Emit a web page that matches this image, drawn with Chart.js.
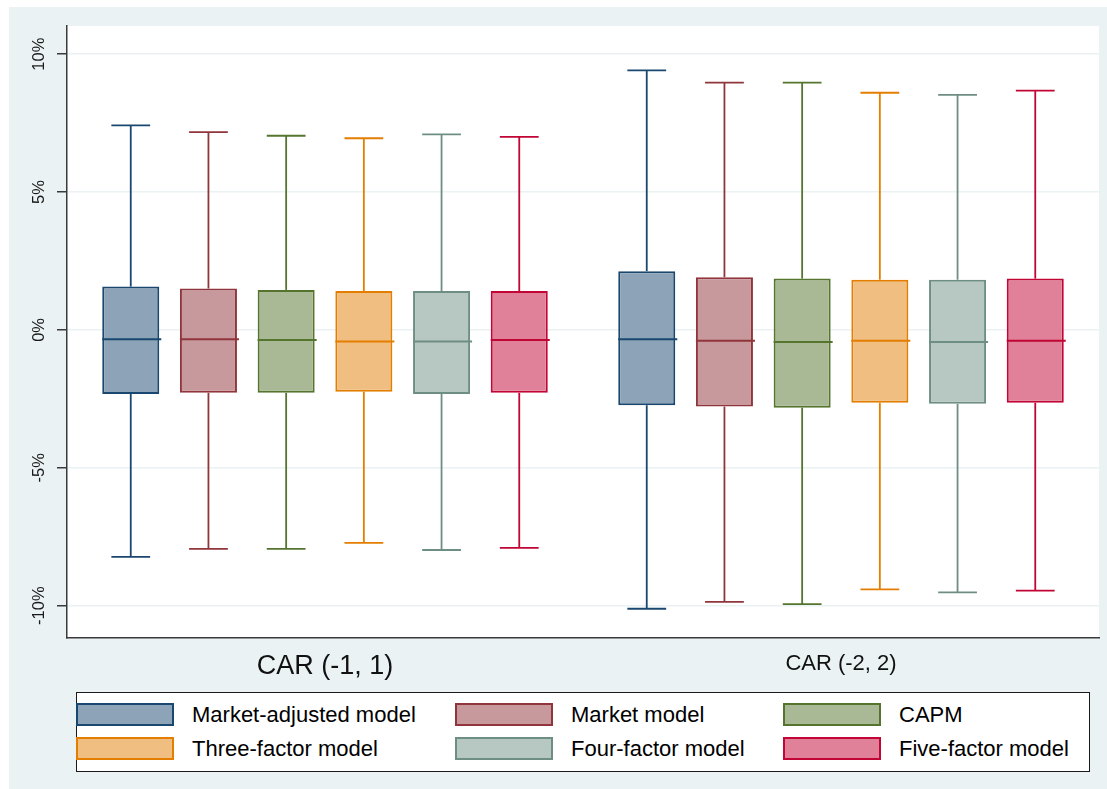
<!DOCTYPE html>
<html>
<head>
<meta charset="utf-8">
<script src="https://cdn.jsdelivr.net/npm/chart.js@4.4.1/dist/chart.umd.min.js"></script>
<style>
  html, body { margin: 0; padding: 0; background: #ffffff; width: 1107px; height: 789px; overflow: hidden; }
  #bg { position: absolute; left: 9px; top: 7px; width: 1098px; height: 782px; background: #EAF2F3; }
  #chart { position: absolute; left: 0; top: 0; }
  #legend { position: absolute; left: 67px; top: 685px; width: 1014px; height: 80px; background: #ffffff;
            border: 1px solid #1a1a1a; box-sizing: border-box; font-family: 'Liberation Sans', Arial, sans-serif; }
  .item { position: absolute; height: 23px; display: flex; align-items: center; }
  .sw { width: 98px; height: 23px; box-sizing: border-box; border: 2px solid; }
  .lt { margin-left: 18px; font-size: 22px; color: #000; white-space: nowrap; }
</style>
</head>
<body>
<div id="bg">
  <canvas id="chart" width="1098" height="782"></canvas>
  <div id="legend"></div>
</div>
<script>
// ---- data (values in %) ----
const categories = ['CAR (-1, 1)', 'CAR (-2, 2)'];
const models = ['Market-adjusted model', 'Market model', 'CAPM',
                'Three-factor model', 'Four-factor model', 'Five-factor model'];
// each row: [CAR (-1, 1), CAR (-2, 2)]
const whiskerHigh   = [[7.42, 9.41], [7.17, 8.97], [7.04, 8.97], [6.95, 8.60], [7.09, 8.52], [7.00, 8.68]];
const upperQuartile = [[1.57, 2.13], [1.50, 1.91], [1.45, 1.86], [1.41, 1.82], [1.41, 1.82], [1.41, 1.86]];
const medianValue   = [[-0.34, -0.34], [-0.34, -0.39], [-0.37, -0.44], [-0.42, -0.39], [-0.42, -0.44], [-0.37, -0.39]];
const lowerQuartile = [[-2.32, -2.73], [-2.28, -2.78], [-2.28, -2.82], [-2.24, -2.64], [-2.32, -2.68], [-2.28, -2.64]];
const whiskerLow    = [[-8.23, -10.11], [-7.94, -9.86], [-7.94, -9.94], [-7.72, -9.41], [-7.98, -9.52], [-7.90, -9.45]];
const yTicks = [-10, -5, 0, 5, 10];

// ---- styles ----
const lineColors = ['#1A476F', '#90353B', '#55752F', '#E37E00', '#6E8E84', '#C10534'];
const fillColors = ['#8DA3B8', '#C8999C', '#AAB995', '#F0BE80', '#B7C7C1', '#E08199'];
const FONT = "'Liberation Sans', Arial, sans-serif";
const AXIS = '#3a3a3a';

const boxParts = {
  id: 'boxParts',
  beforeDraw(chart) {
    const { ctx, chartArea: a } = chart;
    ctx.save();
    ctx.fillStyle = '#ffffff';
    ctx.fillRect(a.left, a.top, a.right - a.left, a.bottom - a.top);
    ctx.restore();
  },
  afterDatasetsDraw(chart) {
    const ctx = chart.ctx, ys = chart.scales.y;
    const seg = (x1, y1, x2, y2) => { ctx.beginPath(); ctx.moveTo(x1, y1); ctx.lineTo(x2, y2); ctx.stroke(); };
    ctx.save();
    chart.data.datasets.forEach((ds, i) => {
      const meta = chart.getDatasetMeta(i);
      meta.data.forEach((bar, j) => {
        const x = bar.x, w = bar.width, cap = w * 0.68;
        const yHi = ys.getPixelForValue(whiskerHigh[i][j]);
        const yQ3 = ys.getPixelForValue(upperQuartile[i][j]);
        const yMd = ys.getPixelForValue(medianValue[i][j]);
        const yQ1 = ys.getPixelForValue(lowerQuartile[i][j]);
        const yLo = ys.getPixelForValue(whiskerLow[i][j]);
        ctx.strokeStyle = lineColors[i];
        ctx.lineWidth = 1.8;
        seg(x, yQ3, x, yHi);
        seg(x - cap / 2, yHi, x + cap / 2, yHi);
        seg(x, yQ1, x, yLo);
        seg(x - cap / 2, yLo, x + cap / 2, yLo);
        ctx.lineWidth = 2;
        seg(x - w / 2, yMd, x + w / 2 + 2, yMd);
      });
    });
    ctx.restore();
  },
  afterDraw(chart) {
    const ctx = chart.ctx, ys = chart.scales.y;
    ctx.save();
    ctx.fillStyle = '#1a1a1a';
    ctx.font = '16.5px ' + FONT;
    ctx.textAlign = 'center';
    ctx.textBaseline = 'middle';
    ys.ticks.forEach(t => {
      const y = ys.getPixelForValue(t.value);
      ctx.save();
      ctx.translate(30, y);
      ctx.rotate(-Math.PI / 2);
      ctx.fillText(t.label, 0, 0);
      ctx.restore();
    });
    ctx.restore();
  }
};

const datasets = models.map((m, i) => ({
  label: m,
  data: categories.map((c, j) => [lowerQuartile[i][j], upperQuartile[i][j]]),
  backgroundColor: fillColors[i],
  borderColor: lineColors[i],
  borderWidth: 2,
  borderSkipped: false,
  categoryPercentage: 0.9035,
  barPercentage: 0.734
}));

new Chart(document.getElementById('chart'), {
  type: 'bar',
  data: { labels: categories, datasets },
  plugins: [boxParts],
  options: {
    responsive: false,
    animation: false,
    devicePixelRatio: 1,
    layout: { padding: { top: 19, right: 8, left: 0, bottom: 106.3 } },
    plugins: { legend: { display: false }, tooltip: { enabled: false } },
    scales: {
      x: {
        type: 'category',
        grid: { display: false, drawTicks: false },
        border: { color: AXIS, width: 1.5 },
        ticks: {
          padding: 13,
          color: '#111111',
          font: ctx => ({ family: FONT, size: ctx.index === 0 ? 27 : 22 })
        },
        afterFit: s => { s.height = 45; }
      },
      y: {
        type: 'linear',
        min: -11.16,
        max: 11.02,
        afterBuildTicks: s => { s.ticks = yTicks.map(v => ({ value: v })); },
        grid: { color: '#EAF2F3', lineWidth: 1.5, tickColor: AXIS, tickLength: 10, tickWidth: 1.5, drawTicks: true },
        border: { color: AXIS, width: 1.5 },
        ticks: { display: false, callback: v => v + '%' },
        afterFit: s => { s.width = 58; }
      }
    }
  }
});

// ---- legend (3 columns x 2 rows) ----
const legend = document.getElementById('legend');
const colX = [-1, 378, 706];
const rowY = [10, 44];
models.forEach((m, i) => {
  const it = document.createElement('div');
  it.className = 'item';
  it.style.left = colX[i % 3] + 'px';
  it.style.top = rowY[Math.floor(i / 3)] + 'px';
  const sw = document.createElement('div');
  sw.className = 'sw';
  sw.style.background = fillColors[i];
  sw.style.borderColor = lineColors[i];
  const tx = document.createElement('span');
  tx.className = 'lt';
  tx.textContent = m;
  it.appendChild(sw);
  it.appendChild(tx);
  legend.appendChild(it);
});
</script>
</body>
</html>
